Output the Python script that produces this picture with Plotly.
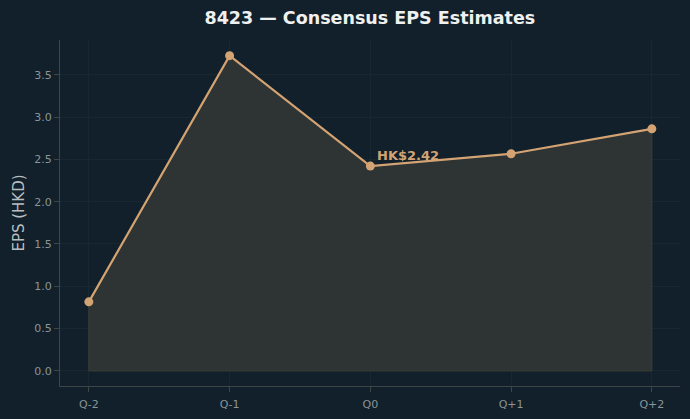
import plotly.graph_objects as go

quarters = ["Q-2", "Q-1", "Q0", "Q+1", "Q+2"]
eps = [0.816, 3.725, 2.42, 2.566, 2.86]
current_label = "HK$2.42"
current_idx = 2

bg = "#11202a"
line_c = "#d4a373"
fill_c = "#2e3333"

xi = list(range(len(quarters)))
fig = go.Figure()
fig.add_trace(go.Scatter(
    x=[xi[0]] + xi + [xi[-1], xi[0]],
    y=[0] + eps + [0, 0],
    fill="toself", fillcolor=fill_c, mode="lines",
    line=dict(color="#3b3f38", width=1), hoverinfo="skip", showlegend=False))
fig.add_trace(go.Scatter(
    x=xi, y=eps, mode="lines+markers",
    line=dict(color=line_c, width=2.2),
    marker=dict(color=line_c, size=9), showlegend=False))

fig.add_annotation(x=current_idx, y=eps[current_idx], text="<b>" + current_label + "</b>",
                   showarrow=False, xanchor="left", yanchor="middle",
                   xshift=5, yshift=11, font=dict(color=line_c, size=13, family="DejaVu Sans"))

axis_common = dict(showline=True, linecolor="#3d4547", linewidth=1,
                   gridcolor="#182830", gridwidth=1, zeroline=False,
                   ticks="outside", ticklen=5, tickcolor="#3d4547", automargin=False,
                   tickfont=dict(color="#8a9499", size=11, family="DejaVu Sans"))

fig.update_xaxes(range=[-0.205, 4.2], tickvals=xi, ticktext=quarters, ticklabelstandoff=3, **axis_common)
fig.update_yaxes(range=[-0.178, 3.91], tickvals=[0, 0.5, 1, 1.5, 2, 2.5, 3, 3.5],
                 ticktext=["0.0", "0.5", "1.0", "1.5", "2.0", "2.5", "3.0", "3.5"],
                 title=dict(text="EPS (HKD)", font=dict(color="#b8bec0", size=15, family="DejaVu Sans"), standoff=6),
                 **axis_common)

fig.update_layout(
    width=690, height=419, paper_bgcolor=bg, plot_bgcolor=bg,
    margin=dict(l=60, r=10, t=40, b=33),
    title=dict(text="<b>8423 — Consensus EPS Estimates</b>", x=0.536, xanchor="center", y=0.957, yanchor="middle",
               font=dict(color="#f0f0f0", size=17.5, family="DejaVu Sans")),
)

fig.write_html("out.html")
